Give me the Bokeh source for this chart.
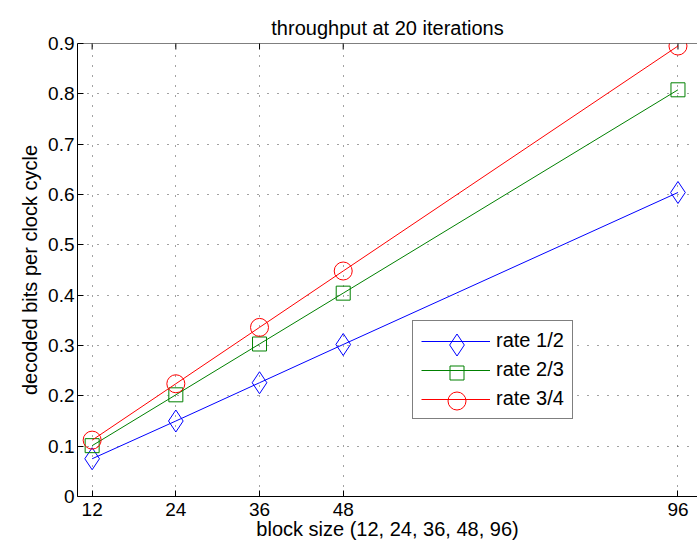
import math
from bokeh.plotting import figure
from bokeh.models import Range1d, FixedTicker, Legend, LegendItem, Span
from bokeh.embed import file_html
from bokeh.resources import INLINE

# ---- data ----
block_sizes = [12, 24, 36, 48, 96]
rate_1_2 = [0.075, 0.150, 0.226, 0.302, 0.604]
rate_2_3 = [0.101, 0.202, 0.303, 0.404, 0.808]
rate_3_4 = [0.112, 0.224, 0.336, 0.448, 0.895]
series_names = ["rate 1/2", "rate 2/3", "rate 3/4"]
x_ticks = [12, 24, 36, 48, 96]
y_ticks = [0, 0.1, 0.2, 0.3, 0.4, 0.5, 0.6, 0.7, 0.8, 0.9]
y_tick_labels = ["0", "0.1", "0.2", "0.3", "0.4", "0.5", "0.6", "0.7", "0.8", "0.9"]
title_text = "throughput at 20 iterations"
x_label = "block size (12, 24, 36, 48, 96)"
y_label = "decoded bits per clock cycle"

FONT = "Liberation Sans"
colors = ["#0000ff", "#008000", "#ff0000"]
markers = ["diamond", "square", "circle"]
marker_sizes = [22, 14, 18]

Y_MAX = 0.9

p = figure(width=697, height=556, output_backend="svg", toolbar_location=None,
           x_range=Range1d(9.9, 98.8), y_range=Range1d(0, Y_MAX),
           title=title_text, x_axis_label=x_label, y_axis_label=y_label,
           min_border_left=77, min_border_right=0, min_border_top=43,
           min_border_bottom=60, outline_line_color=None,
           background_fill_color="white", border_fill_color="white")

# title
p.title.text_font = FONT
p.title.text_font_size = "20px"
p.title.text_font_style = "normal"
p.title.align = "center"
p.title.text_color = "black"
p.title.offset = 6
p.title.standoff = 10

# axes
p.xaxis.ticker = FixedTicker(ticks=x_ticks)
p.yaxis.ticker = FixedTicker(ticks=y_ticks)
p.yaxis.major_label_overrides = dict(zip(y_ticks, y_tick_labels))
for ax in p.xaxis + p.yaxis:
    ax.major_tick_in = 6
    ax.major_tick_out = 0
    ax.minor_tick_line_color = None
    ax.axis_line_color = "black"
    ax.major_tick_line_color = "black"
    ax.major_label_text_font = FONT
    ax.major_label_text_font_size = "19px"
    ax.major_label_text_color = "black"
    ax.axis_label_text_font = FONT
    ax.axis_label_text_font_size = "20px"
    ax.axis_label_text_font_style = "normal"
    ax.axis_label_text_color = "black"
p.xaxis.major_label_standoff = 6
p.xaxis.axis_label_standoff = -1
p.yaxis.major_label_standoff = 3
p.yaxis.axis_label_standoff = 4

# top border of the axes box and its inward ticks
p.add_layout(Span(location=Y_MAX, dimension="width", line_color="black", line_width=1))
p.scatter(x=x_ticks, y=[Y_MAX] * len(x_ticks), marker="dash", angle=math.pi / 2,
          size=12, line_color="black", line_width=1)

# grid
for g in (p.xgrid, p.ygrid):
    g.grid_line_color = "#444444"
    g.grid_line_dash = "1 9"
    g.grid_line_width = 1

# series
series = [rate_1_2, rate_2_3, rate_3_4]
line_renderers = []
marker_renderers = []
for vals, c, m, s in zip(series, colors, markers, marker_sizes):
    lr = p.line(block_sizes, vals, line_color=c, line_width=1)
    mr = p.scatter(block_sizes, vals, marker=m, size=s, fill_color=None,
                   line_color=c, line_width=1)
    line_renderers.append(lr)
    marker_renderers.append(mr)

# legend box with lines and labels
legend = Legend(items=[LegendItem(label=n, renderers=[r]) for n, r in zip(series_names, line_renderers)],
                location=(335, 77), padding=8, spacing=6, margin=0,
                glyph_width=69, glyph_height=22, label_height=22, label_standoff=6,
                label_text_font=FONT, label_text_font_size="20px", label_text_color="black",
                border_line_color="black", border_line_width=1,
                background_fill_color="white", background_fill_alpha=1.0)
p.add_layout(legend)

# marker overlays for the legend (legend marker size = 0.4 * glyph box)
marker_legend_pos = [(352, 124), (362, 106), (357, 73)]
for mr, s, pos in zip(marker_renderers, marker_sizes, marker_legend_pos):
    gh = int(round(s / 0.4))
    ml = Legend(items=[LegendItem(label=" ", renderers=[mr])], location=pos,
                padding=0, spacing=0, margin=0, glyph_width=gh, glyph_height=gh,
                label_standoff=0, label_text_font=FONT, label_text_font_size="19px",
                label_text_alpha=0.0, border_line_color=None,
                background_fill_alpha=0.0)
    p.add_layout(ml)

open("out.html", "w").write(file_html(p, INLINE))
